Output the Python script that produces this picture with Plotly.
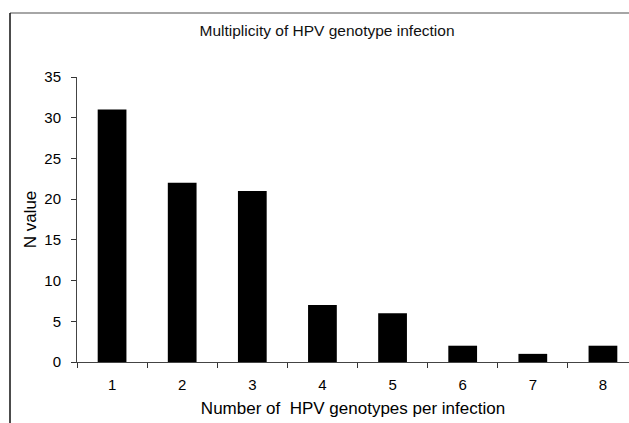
import plotly.graph_objects as go

categories = ["1", "2", "3", "4", "5", "6", "7", "8"]
n_values = [31, 22, 21, 7, 6, 2, 1, 2]
y_ticks = [0, 5, 10, 15, 20, 25, 30, 35]

W, H = 629, 423
ML, MR, MT, MB = 77, 0, 77, 61
PW = W - ML - MR

font_family = "Liberation Sans, Arial, sans-serif"

fig = go.Figure()
fig.add_trace(go.Bar(
    x=categories,
    y=n_values,
    marker=dict(color="black", line=dict(width=0)),
    width=0.41,
))

def px2paper_x(px):
    return (px - ML) / PW

def px2paper_y(py):
    return (H - MB - py) / (H - MT - MB)

fig.update_layout(
    width=W, height=H,
    margin=dict(l=ML, r=MR, t=MT, b=MB, pad=0),
    paper_bgcolor="white",
    plot_bgcolor="white",
    showlegend=False,
    font=dict(family=font_family, color="black", size=15),
    title=dict(
        text="Multiplicity of HPV genotype infection",
        font=dict(size=15.5, color="#111"),
        x=px2paper_x(327), xref="paper", xanchor="center",
        y=1 - 31 / H, yref="container", yanchor="middle",
    ),
    xaxis=dict(
        type="category",
        range=[-0.5, 7.5 - 9 / 70.1],
        tickson="boundaries",
        ticks="outside", ticklen=5, tickcolor="#333", tickwidth=1,
        ticklabelstandoff=9,
        showline=True, linecolor="#444", linewidth=1,
        showgrid=False, zeroline=False,
        tickfont=dict(size=15),
        title=dict(text="Number of  HPV genotypes per infection",
                   font=dict(size=17), standoff=10),
    ),
    yaxis=dict(
        range=[0, 35],
        tickvals=y_ticks,
        ticks="outside", ticklen=5, tickcolor="#333", tickwidth=1,
        ticklabelstandoff=7,
        showline=True, linecolor="#444", linewidth=1,
        showgrid=False, zeroline=False,
        tickfont=dict(size=15),
        title=dict(text="N value", font=dict(size=17), standoff=3),
    ),
    shapes=[
        dict(type="line", xref="paper", yref="paper",
             x0=px2paper_x(10), x1=px2paper_x(629),
             y0=px2paper_y(13), y1=px2paper_y(13),
             line=dict(color="#888", width=1.5)),
        dict(type="line", xref="paper", yref="paper",
             x0=px2paper_x(10), x1=px2paper_x(10),
             y0=px2paper_y(13), y1=px2paper_y(423),
             line=dict(color="#111", width=1.5)),
    ],
)

fig.write_html("out.html", config={"displayModeBar": False},
               post_script="document.body.style.margin='0';")
